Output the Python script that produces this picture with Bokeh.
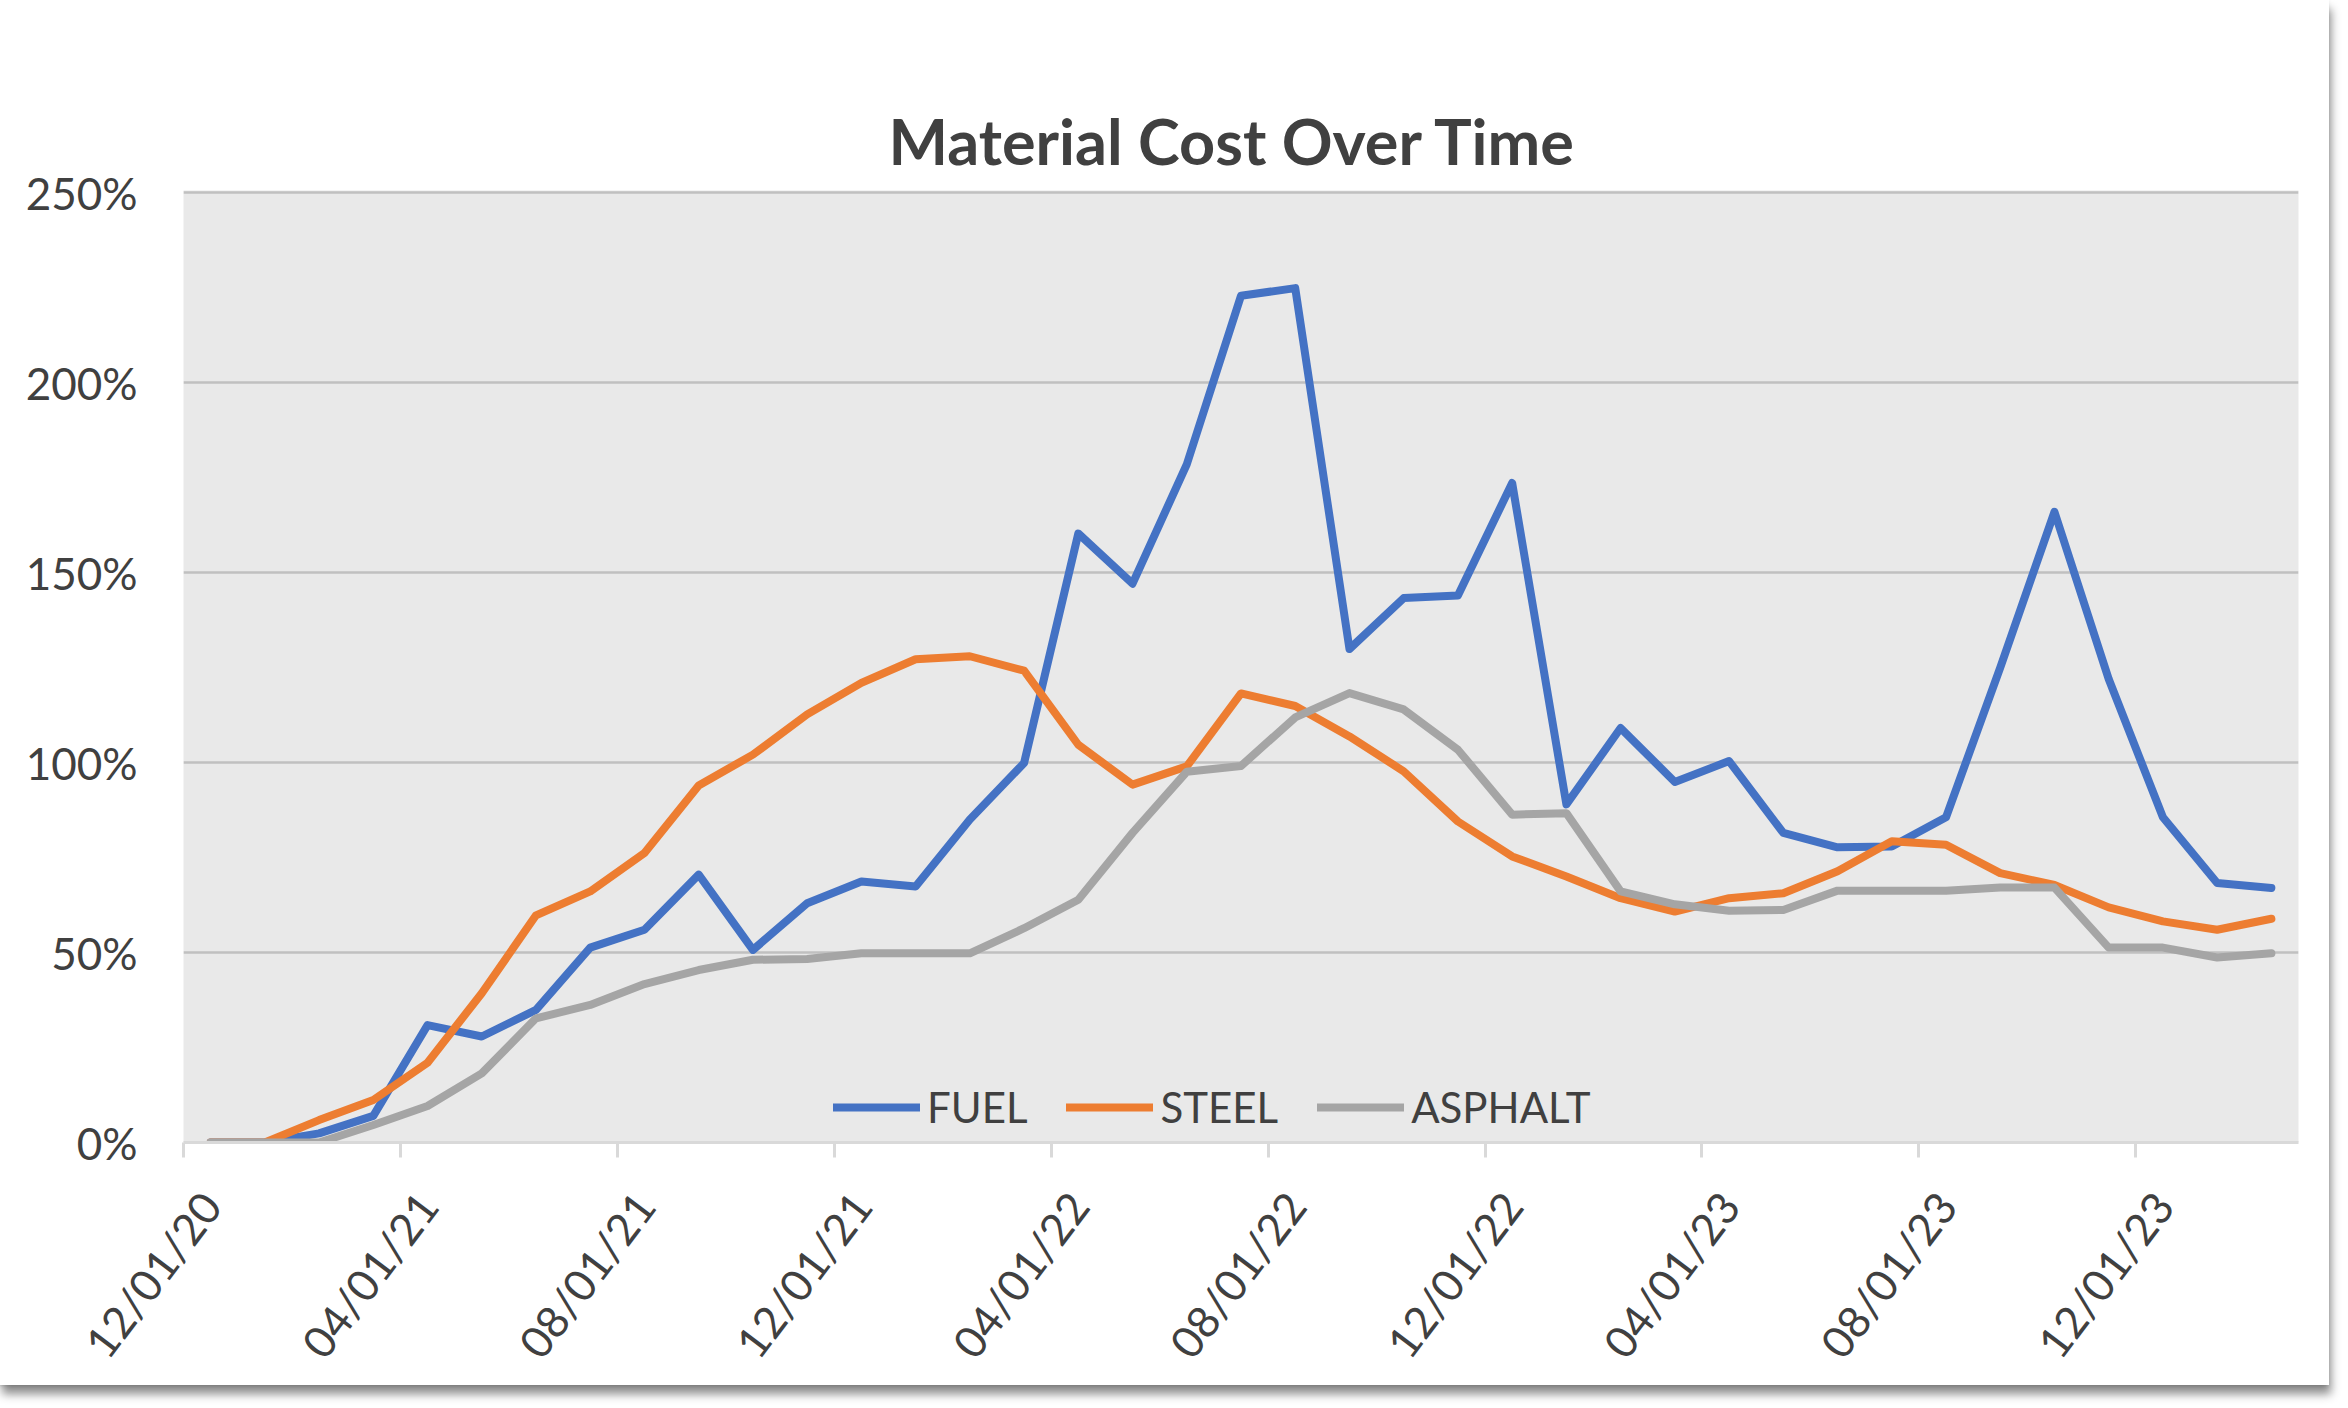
import math
from bokeh.plotting import figure
from bokeh.models import (LinearAxis, FixedTicker, Range1d, Legend, LegendItem,
                          PrintfTickFormatter, CustomJSTickFormatter)
from bokeh.embed import file_html
from bokeh.resources import INLINE

# ---------------- data ----------------
months = ["12/01/20", "01/01/21", "02/01/21", "03/01/21", "04/01/21", "05/01/21", "06/01/21",
          "07/01/21", "08/01/21", "09/01/21", "10/01/21", "11/01/21", "12/01/21", "01/01/22",
          "02/01/22", "03/01/22", "04/01/22", "05/01/22", "06/01/22", "07/01/22", "08/01/22",
          "09/01/22", "10/01/22", "11/01/22", "12/01/22", "01/01/23", "02/01/23", "03/01/23",
          "04/01/23", "05/01/23", "06/01/23", "07/01/23", "08/01/23", "09/01/23", "10/01/23",
          "11/01/23", "12/01/23", "01/01/24", "02/01/24"]

tick_labels = ["12/01/20", "04/01/21", "08/01/21", "12/01/21", "04/01/22", "08/01/22",
               "12/01/22", "04/01/23", "08/01/23", "12/01/23"]

fuel = [0, 0, 2.4, 7.0, 30.9, 27.9, 34.9, 51.3, 56.0, 70.5, 50.7, 63.0, 68.7, 67.4, 85.0,
        99.9, 160.3, 147.1, 178.5, 222.9, 224.9, 129.9, 143.3, 144.0, 173.6, 89.0, 109.1,
        94.9, 100.4, 81.5, 77.7, 77.9, 85.6, 125.0, 166.0, 122.0, 85.6, 68.3, 67.0]

steel = [0, 0, 5.9, 11.2, 21.0, 39.3, 59.8, 66.1, 76.2, 94.0, 102.1, 112.7, 121.0, 127.2,
         128.0, 124.2, 104.7, 94.2, 99.0, 118.2, 114.9, 106.9, 97.7, 84.5, 75.3, 70.0, 64.3,
         60.8, 64.3, 65.6, 71.4, 79.3, 78.4, 70.9, 67.8, 61.9, 58.2, 56.0, 58.9]

asphalt = [0, 0, 0, 4.6, 9.6, 18.2, 32.7, 36.2, 41.7, 45.4, 48.1, 48.3, 49.8, 49.8, 49.8,
           56.4, 63.9, 81.5, 97.6, 99.1, 111.9, 118.3, 114.0, 103.4, 86.3, 86.7, 66.1, 62.7,
           61.0, 61.2, 66.3, 66.3, 66.3, 67.1, 67.1, 51.3, 51.3, 48.7, 49.8]

y_ticks = [0, 50, 100, 150, 200, 250]
series_names = ["FUEL", "STEEL", "ASPHALT"]
series_colors = ["#4472C4", "#ED7D31", "#A5A5A5"]

# ---------------- figure ----------------
FONT = "Lato"
TEXT_COLOR = "#404040"

n = len(months)
xs = [i + 0.5 for i in range(n)]  # each month centred in its own slot

p = figure(frame_width=2115, frame_height=952, output_backend="svg", toolbar_location=None,
           x_axis_location=None, y_axis_location=None,
           x_range=Range1d(0, n), y_range=Range1d(0, 250.6),
           min_border_left=183, min_border_right=31, min_border_top=190,
           min_border_bottom=230)
p.styles = {"box-shadow": "-2px 0px 4px rgba(0,0,0,0.25), 2px 9px 9px rgba(0,0,0,0.45)"}
p.background_fill_color = "#E9E9E9"
p.border_fill_color = "white"
p.outline_line_color = None

# title
p.title.text = "Material Cost Over Time"
p.title.align = "left"
p.title.text_font = FONT
p.title.text_font_style = "bold"
p.title.text_font_size = "63px"
p.title.text_color = TEXT_COLOR
p.title.offset = 705
p.title.standoff = 25

# y axis (labels only)
yaxis = LinearAxis(ticker=FixedTicker(ticks=y_ticks),
                   formatter=PrintfTickFormatter(format="%d%%"))
yaxis.axis_line_color = None
yaxis.major_tick_line_color = None
yaxis.minor_tick_line_color = None
yaxis.major_tick_out = 0
yaxis.major_tick_in = 0
yaxis.major_label_standoff = 46
yaxis.major_label_text_font = FONT
yaxis.major_label_text_font_size = "44px"
yaxis.major_label_text_color = TEXT_COLOR
p.add_layout(yaxis, "left")

# horizontal grid
p.ygrid.ticker = FixedTicker(ticks=y_ticks[1:])
p.ygrid.grid_line_color = "#C0C0C0"
p.ygrid.grid_line_width = 2.5
p.xgrid.grid_line_color = None

# x axis: line + tick marks at month boundaries
tick_bounds = [months.index(l) for l in tick_labels]
xline = LinearAxis(ticker=FixedTicker(ticks=tick_bounds),
                   formatter=CustomJSTickFormatter(code="return ''"))
xline.axis_line_color = "#D9D9D9"
xline.axis_line_width = 3
xline.major_tick_line_color = "#D9D9D9"
xline.major_tick_line_width = 3
xline.major_tick_out = 15
xline.major_tick_in = 0
xline.minor_tick_line_color = None
xline.major_label_standoff = 0
xline.major_label_text_font_size = "1px"
p.add_layout(xline, "below")

# x axis labels, centred in their month slots, rotated
tick_centres = [months.index(l) + 0.5 for l in tick_labels]
xlab = LinearAxis(ticker=FixedTicker(ticks=tick_centres),
                  major_label_overrides={c: l for c, l in zip(tick_centres, tick_labels)})
xlab.axis_line_color = None
xlab.major_tick_line_color = None
xlab.minor_tick_line_color = None
xlab.major_tick_out = 0
xlab.major_tick_in = 0
xlab.major_label_standoff = 40
xlab.major_label_orientation = 0.925
xlab.major_label_text_font = FONT
xlab.major_label_text_font_size = "44px"
xlab.major_label_text_color = TEXT_COLOR
p.add_layout(xlab, "below")

# lines
renderers = []
for vals, color in zip([fuel, steel, asphalt], series_colors):
    r = p.line(xs, vals, line_color=color, line_width=8,
               line_join="round", line_cap="round")
    renderers.append(r)

legend = Legend(items=[LegendItem(label=nm, renderers=[r]) for nm, r in zip(series_names, renderers)],
                orientation="horizontal", location=(650, 10),
                glyph_width=87, glyph_height=44, label_standoff=7, spacing=39,
                padding=0, margin=0, background_fill_alpha=0, border_line_color=None,
                label_text_font=FONT, label_text_font_size="42px",
                label_text_color=TEXT_COLOR, label_height=44)
p.add_layout(legend)

open("out.html", "w").write(file_html(p, INLINE))
